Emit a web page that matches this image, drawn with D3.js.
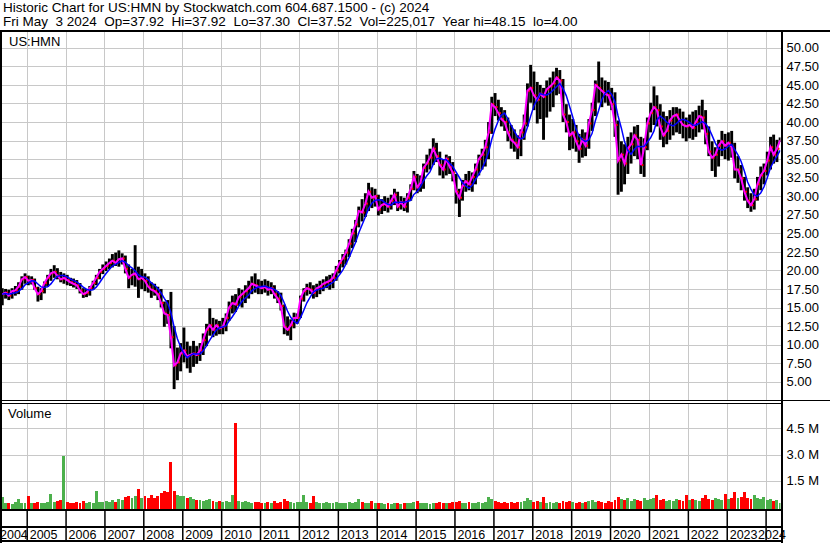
<!DOCTYPE html>
<html><head><meta charset="utf-8">
<script src="https://cdn.jsdelivr.net/npm/d3@7"></script>
<style>
html,body{margin:0;padding:0;background:#fff;}
svg{display:block;font-family:"Liberation Sans",Arial,sans-serif;}
</style></head><body>
<svg id="c" width="830" height="543"></svg>
<script>
// ---------- DATA (monthly, May 2004 .. May 2024) ----------
const months = d3.timeMonth.range(new Date(2004,4,1), new Date(2024,5,1));
const low = [
 15.3,16.2,16.0,16.2,16.6,16.8,17.4,18.2,
 18.0,18.1,17.4,15.8,16.0,16.9,17.8,18.6,19.0,18.8,18.4,18.2,
 18.0,17.9,17.7,17.5,16.9,16.3,16.4,16.6,17.4,18.0,18.8,19.5,
 19.9,20.2,20.4,20.6,20.5,20.8,19.6,17.6,18.0,17.8,16.3,17.5,
 17.2,17.0,16.3,16.6,16.0,15.0,12.4,12.8,9.5,4.0,5.2,6.4,
 7.6,6.8,6.2,7.0,7.4,7.8,8.6,9.8,11.2,11.0,11.2,11.4,
 11.4,11.8,13.2,14.2,14.4,15.2,15.0,15.6,16.2,16.8,17.0,16.8,
 16.8,17.0,16.6,16.8,16.2,15.6,14.6,11.4,11.2,10.6,12.2,12.8,
 13.6,15.8,16.6,16.8,16.2,16.4,16.8,17.2,17.6,17.4,17.6,18.6,
 19.6,20.4,20.8,21.8,23.0,23.8,25.8,26.6,27.2,28.0,28.4,28.6,
 27.4,27.6,28.0,27.8,28.2,28.8,28.0,28.2,28.0,27.8,29.4,30.8,
 30.4,30.6,31.0,33.2,33.6,34.2,34.6,32.8,32.4,32.8,33.0,32.0,
 29.0,27.2,29.4,30.6,30.8,30.6,31.6,32.8,33.6,34.0,35.0,38.4,
 40.8,40.2,39.4,38.8,37.4,36.4,36.0,35.0,35.4,37.6,39.4,42.6,
 41.6,39.8,40.4,37.6,40.6,41.4,42.0,43.6,43.8,40.0,38.6,36.2,
 36.4,36.0,34.5,35.2,35.4,36.4,38.8,40.8,42.6,42.0,42.6,42.2,
 41.6,38.0,30.2,30.6,31.6,33.0,34.4,35.4,35.0,33.0,32.6,36.2,
 38.6,39.6,39.4,37.6,36.6,37.0,37.6,38.2,38.6,38.4,37.8,37.4,
 37.8,37.6,38.0,38.6,39.0,37.0,35.4,33.4,32.6,34.0,35.4,35.0,
 34.8,35.2,32.4,31.8,30.8,29.4,28.4,27.9,28.2,29.4,30.8,31.6,
 32.8,33.6,34.4,34.6,37.3];
const high = [
 17.6,17.5,17.4,17.6,17.9,18.4,19.2,19.6,
 19.3,19.2,18.9,17.8,17.6,18.5,19.4,20.2,20.7,20.3,19.8,19.6,
 19.4,19.0,18.9,18.7,18.3,17.6,17.5,17.9,18.6,19.4,20.2,20.8,
 21.2,21.6,22.2,22.4,22.7,22.3,22.0,20.8,20.2,23.4,20.5,20.2,
 19.6,19.2,18.4,18.2,17.8,17.5,15.8,16.0,17.1,12.5,9.6,10.2,
 12.3,10.4,9.8,10.5,9.8,10.2,11.5,12.8,14.9,13.6,13.4,13.2,
 13.6,14.2,15.8,16.6,16.8,17.6,17.4,18.0,18.6,19.2,19.6,18.8,
 18.6,18.8,18.6,18.4,18.0,17.2,17.0,15.4,13.8,13.4,14.3,14.2,
 16.6,17.6,18.2,18.4,18.0,18.2,18.6,18.8,19.2,19.4,19.6,20.6,
 21.4,22.2,22.8,24.2,25.6,26.8,28.6,29.6,30.4,31.8,31.2,31.0,
 30.2,29.6,30.0,29.8,30.2,31.0,30.6,30.0,29.8,30.4,31.6,33.4,
 33.0,32.8,34.4,35.6,36.4,37.8,37.2,36.0,35.0,35.6,35.4,34.6,
 33.0,31.0,32.2,33.0,33.4,33.2,34.4,35.6,36.4,37.6,40.0,43.4,
 43.9,43.0,42.0,41.6,40.6,39.6,39.0,38.2,39.0,41.0,45.2,47.7,
 46.8,45.4,45.0,44.6,45.6,46.0,46.8,47.3,47.0,45.8,42.4,41.0,
 40.4,39.6,38.4,39.0,38.6,40.4,42.6,45.6,48.15,46.0,45.6,45.4,
 44.6,44.0,40.2,37.4,37.0,38.0,38.6,39.4,39.6,38.0,37.8,40.6,
 42.6,44.8,43.6,42.4,41.4,40.8,41.6,42.0,42.0,41.8,41.4,40.6,
 41.0,41.4,41.6,42.2,43.0,41.6,39.4,37.4,36.6,37.6,38.8,38.4,
 38.6,38.8,37.2,35.4,34.2,32.6,31.2,30.4,31.0,32.6,34.0,34.4,
 36.0,38.0,38.3,37.6,37.92];
const close = [
 16.8,17.0,16.6,17.2,17.3,17.8,18.8,19.1,
 18.6,18.7,17.6,16.8,17.2,18.3,19.0,19.6,19.8,19.3,18.8,19.0,
 18.7,18.4,18.2,18.0,17.3,16.8,17.0,17.6,18.3,19.0,19.8,20.2,
 20.6,21.0,21.3,21.0,21.5,21.6,20.2,19.0,19.4,19.6,18.8,19.0,
 18.6,17.8,17.4,17.2,16.8,15.6,14.2,14.0,11.0,7.2,7.6,8.8,
 9.2,8.4,8.6,8.8,8.6,9.2,10.6,12.0,12.6,12.0,12.6,12.2,
 12.4,13.6,15.0,15.6,15.4,16.4,16.8,17.2,17.6,18.2,18.0,17.8,
 17.6,17.8,17.4,17.6,16.8,16.2,15.2,12.4,12.0,12.6,13.6,13.6,
 16.2,17.2,17.6,17.4,17.0,17.6,17.8,18.2,18.4,18.6,19.0,20.0,
 21.0,21.6,22.4,23.6,25.0,26.2,28.0,27.8,29.0,30.6,29.8,30.0,
 28.2,28.8,29.0,28.6,29.4,30.2,28.6,29.2,28.6,29.8,31.0,32.6,
 31.2,31.8,33.8,34.4,35.2,36.4,35.4,34.2,33.6,35.0,34.0,33.2,
 30.6,29.8,31.4,32.0,31.6,32.6,33.6,35.0,35.6,36.6,38.6,42.4,
 42.0,41.2,40.4,40.0,38.6,37.6,37.2,36.6,38.6,39.8,44.2,44.6,
 43.6,43.0,43.8,43.4,44.4,44.8,45.2,46.0,45.6,41.0,40.0,38.2,
 38.6,37.4,36.4,37.6,36.8,39.8,41.6,45.0,44.6,44.2,43.8,43.6,
 42.4,39.6,34.8,35.6,34.4,36.4,37.0,38.2,37.6,34.2,36.6,39.8,
 41.2,42.0,41.6,39.4,38.2,38.8,40.2,40.8,41.0,40.2,39.6,39.4,
 39.6,39.2,40.0,40.8,40.6,38.4,36.0,35.2,35.6,36.8,37.4,36.8,
 37.2,36.6,33.6,33.6,32.4,30.6,29.4,28.8,29.6,31.6,32.8,33.4,
 34.8,36.6,35.6,36.4,37.52];
// volume in millions of shares
const volume = [
 0.55,0.2,0.25,0.15,0.3,0.45,0.2,0.25,
 0.62,0.25,0.2,0.3,0.22,0.25,0.3,0.73,0.3,0.35,0.4,2.9,
 0.3,0.25,0.2,0.3,0.25,0.35,0.2,0.3,0.25,0.9,0.3,0.3,
 0.35,0.3,0.4,0.3,0.45,0.4,0.55,0.6,0.5,0.6,1.0,0.5,
 0.6,0.5,0.7,0.5,0.6,0.8,0.9,0.87,2.58,0.9,0.7,0.6,
 0.6,0.5,0.55,0.45,0.4,0.4,0.35,0.4,0.45,0.35,0.3,0.35,
 0.3,0.35,0.3,0.7,4.81,0.35,0.3,0.35,0.3,0.25,0.3,0.3,
 0.25,0.2,0.3,0.25,0.35,0.25,0.3,0.45,0.35,0.3,0.25,0.3,
 0.3,0.7,0.3,0.25,0.6,0.3,0.25,0.2,0.3,0.2,0.25,0.3,
 0.2,0.25,0.2,0.3,0.25,0.3,0.45,0.3,0.2,0.25,0.35,0.2,
 0.25,0.2,0.15,0.2,0.15,0.2,0.25,0.15,0.2,0.25,0.2,0.3,
 0.35,0.2,0.25,0.2,0.15,0.2,0.25,0.3,0.2,0.25,0.2,0.3,
 0.3,0.35,0.2,0.25,0.3,0.25,0.2,0.3,0.25,0.3,0.55,0.45,
 0.35,0.3,0.25,0.3,0.25,0.3,0.25,0.3,0.3,0.35,0.5,0.4,
 0.3,0.35,0.3,0.55,0.25,0.3,0.25,0.3,0.25,0.35,0.3,0.35,
 0.3,0.25,0.3,0.25,0.3,0.35,0.4,0.3,0.35,0.3,0.25,0.35,
 0.3,0.4,0.55,0.45,0.4,0.5,0.35,0.45,0.4,0.35,0.5,0.4,
 0.45,0.5,0.68,0.4,0.45,0.35,0.4,0.35,0.45,0.4,0.35,0.7,
 0.4,0.45,0.4,0.35,0.5,0.68,0.45,0.4,0.5,0.45,0.4,0.75,
 0.45,0.5,0.87,0.5,0.55,0.87,0.5,0.45,0.68,0.5,0.45,0.55,
 0.4,0.45,0.35,0.4,0.25];
const yearLabels = ["2004","2005","2006","2007","2008","2009","2010","2011","2012","2013","2014",
  "2015","2016","2017","2018","2019","2020","2021","2022","2023","2024"];
const priceTicks = [5,7.5,10,12.5,15,17.5,20,22.5,25,27.5,30,32.5,35,37.5,40,42.5,45,47.5,50];
const volTicks = [1.5,3.0,4.5];
const header1 = "Historic Chart for US:HMN by Stockwatch.com 604.687.1500 - (c) 2024";
const header2 = "Fri May  3 2024  Op=37.92  Hi=37.92  Lo=37.30  Cl=37.52  Vol=225,017  Year hi=48.15  lo=4.00";
const symbol = "US:HMN";

// ---------- LAYOUT ----------
const svg = d3.select("#c");
const L = 2, R = 780.5;
const topY = 30.5, mainBot = 400.5, volTop = 403, volBot = 510, tickRow = 527, botY = 541;
const yearDates = yearLabels.slice(1).map(s => new Date(+s,0,1));

const x = d3.scaleTime().domain([new Date(2005,0,1), new Date(2024,0,1)]).range([26.7, 765.6]);
const y = d3.scaleLinear().domain([5,50]).range([381.7,47.8]);
const yv = d3.scaleLinear().domain([0,4.5]).range([506.9,428.3]);

const grid = "#c8c8c8";
svg.append("rect").attr("width",830).attr("height",543).attr("fill","#fff");

// header (double spaces preserved)
const keep = s => s.replace(/  /g, "\u00A0 ");
const hdr = svg.append("g").attr("font-size",13.5).attr("fill","#000");
hdr.append("text").attr("x",3).attr("y",12.3).text(keep(header1));
hdr.append("text").attr("x",3).attr("y",26.3).text(keep(header2));

// clip
const defs = svg.append("defs");
defs.append("clipPath").attr("id","cpMain").append("rect").attr("x",L).attr("y",topY).attr("width",R-L).attr("height",mainBot-topY);
defs.append("clipPath").attr("id","cpVol").append("rect").attr("x",L).attr("y",volTop).attr("width",R-L).attr("height",volBot-volTop);

const styleGrid = g => { g.select(".domain").remove(); g.selectAll("line").attr("stroke",grid).attr("shape-rendering","crispEdges"); };
// gridlines main
svg.append("g").attr("transform",`translate(0,${mainBot})`)
  .call(d3.axisBottom(x).tickValues(yearDates).tickSize(-(mainBot-topY)).tickFormat("")).call(styleGrid);
svg.append("g").attr("transform",`translate(${R},0)`)
  .call(d3.axisLeft(y).tickValues(priceTicks).tickSize(R-L).tickFormat("")).call(styleGrid);
// gridlines volume
svg.append("g").attr("transform",`translate(0,${volBot})`)
  .call(d3.axisBottom(x).tickValues(yearDates).tickSize(-(volBot-volTop)).tickFormat("")).call(styleGrid);
svg.append("g").attr("transform",`translate(${R},0)`)
  .call(d3.axisLeft(yv).tickValues(volTicks).tickSize(R-L).tickFormat("")).call(styleGrid);

// price bars
const bx = i => x(months[i]);
const pg = svg.append("g").attr("clip-path","url(#cpMain)");
pg.append("g").selectAll("rect").data(months).join("rect")
  .attr("x",(d,i)=>bx(i)+0.2).attr("width",2.9)
  .attr("y",(d,i)=>y(high[i])).attr("height",(d,i)=>Math.max(1,y(low[i])-y(high[i])))
  .attr("fill","#000");
pg.append("g").selectAll("rect").data(months).join("rect")
  .attr("x",(d,i)=>bx(i)+2.2).attr("width",2)
  .attr("y",(d,i)=>y(close[i])-1).attr("height",2)
  .attr("fill","#ff0000");
const maLong = close.map((_,i)=>d3.mean(close.slice(Math.max(0,i-4),i+1)));
pg.append("path").datum(close)
  .attr("d",d3.line().x((d,i)=>bx(i)+1.6).y(d=>y(d)))
  .attr("fill","none").attr("stroke","#ff00ff").attr("stroke-width",2);
pg.append("path").datum(maLong)
  .attr("d",d3.line().x((d,i)=>bx(i)+1.6).y(d=>y(d)))
  .attr("fill","none").attr("stroke","#0000ff").attr("stroke-width",1.5);

// volume bars
const vg = svg.append("g").attr("clip-path","url(#cpVol)");
vg.selectAll("rect").data(months).join("rect")
  .attr("x",(d,i)=>bx(i)+0.2).attr("width",2.9)
  .attr("y",(d,i)=>yv(volume[i])).attr("height",(d,i)=>509.5-yv(volume[i]))
  .attr("fill",(d,i)=> (i===0 || close[i]>=close[i-1]) ? "#4cb04c" : "#ff0000")
  .attr("shape-rendering","crispEdges");

// labels in panels
svg.append("text").attr("x",9).attr("y",46).attr("font-size",13).text(symbol);
svg.append("text").attr("x",8).attr("y",418).attr("font-size",13).text("Volume");

// right axes labels
const styleLab = g => { g.select(".domain").remove(); g.selectAll("text").attr("font-size",13).attr("fill","#000").attr("font-family","Liberation Sans, Arial, sans-serif"); };
svg.append("g").attr("transform","translate(782.5,0)")
  .call(d3.axisRight(y).tickValues(priceTicks).tickSize(0).tickPadding(4).tickFormat(d3.format(".2f"))).call(styleLab);
svg.append("g").attr("transform","translate(782.5,0)")
  .call(d3.axisRight(yv).tickValues(volTicks).tickSize(0).tickPadding(4).tickFormat(d=>d.toFixed(1)+" M")).call(styleLab);

// year tick boxes
svg.append("g").attr("transform",`translate(0,${volBot})`)
  .call(d3.axisBottom(x).tickValues(yearDates).tickSize(botY-volBot).tickFormat(""))
  .call(g=>{g.select(".domain").remove(); g.selectAll("line").attr("stroke","#000").attr("stroke-width",1.5);});
const yl = svg.append("g").attr("font-size",12.5).attr("fill","#000");
let prevEnd = -Infinity;
yl.selectAll("text").data(yearLabels).join("text")
  .attr("y",539).text(d=>d)
  .each(function(d){
    const w = this.getComputedTextLength();
    const gx = x(new Date(+d,0,1)) + 3;
    let px = Math.max(0, Math.min(gx, 784 - w));
    px = Math.max(px, prevEnd + 0.5);
    prevEnd = px + w;
    d3.select(this).attr("x", px);
  });

// frame lines
const fr = svg.append("g").attr("stroke","#000").attr("shape-rendering","crispEdges");
const hl = (x1,x2,yy,w)=>fr.append("line").attr("x1",x1).attr("x2",x2).attr("y1",yy).attr("y2",yy).attr("stroke-width",w||1);
const vl = (xx,y1,y2,w)=>fr.append("line").attr("x1",xx).attr("x2",xx).attr("y1",y1).attr("y2",y2).attr("stroke-width",w||1);
hl(0,830,topY,2);
hl(0,R+2,mainBot,1); hl(0,R+2,mainBot+2.5,1);
hl(R,830,mainBot,1);
hl(0,R+2,volBot,2);
hl(0,R+2,tickRow,2);
hl(0,R+2,botY,2);
vl(1,topY,543,2);
vl(781.5,topY,543,2);
</script>
</body></html>
